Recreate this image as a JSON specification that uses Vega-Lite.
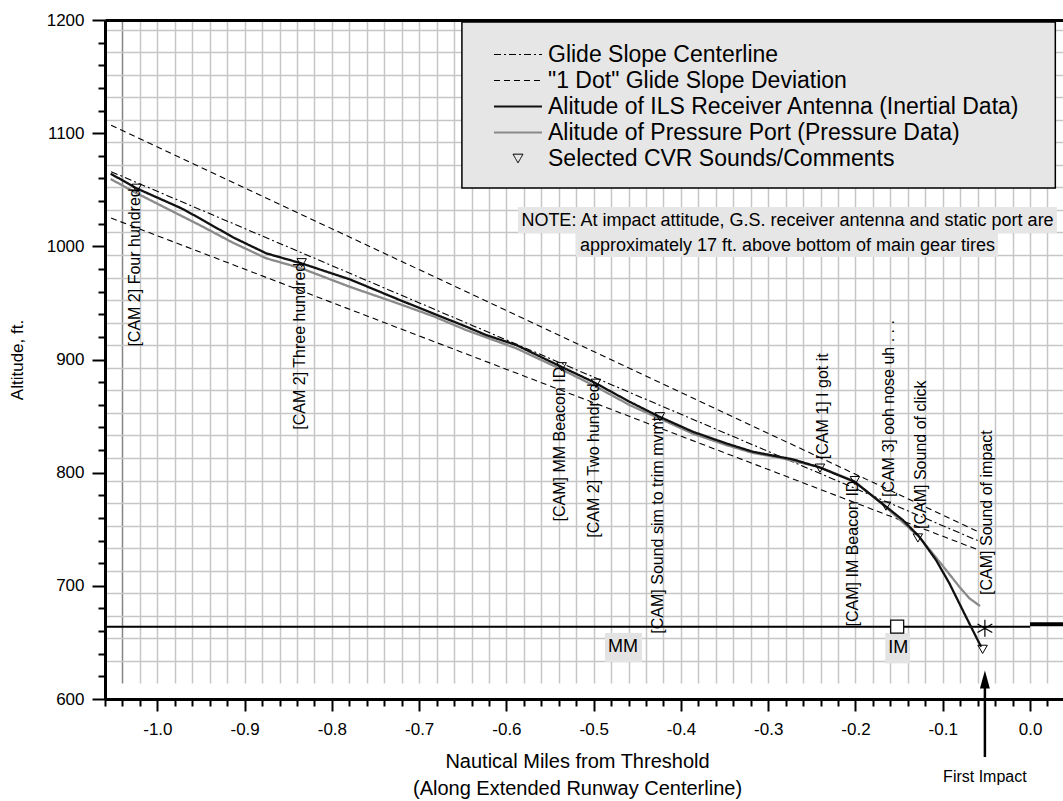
{
  "$schema": "https://vega.github.io/schema/vega-lite/v6.json",
  "width": 958,
  "height": 679,
  "autosize": {"type": "none"},
  "padding": {"left": 105, "top": 20, "right": 0, "bottom": 102},
  "background": "white",
  "config": {"view": {"stroke": null}, "font": "Liberation Sans"},
  "datasets": {
    "one": [{"k": 1}],
    "glide": [
      {"name": "Glide Slope Centerline", "part": "gs_c", "x": -1.053, "alt": 1066},
      {"name": "Glide Slope Centerline", "part": "gs_c", "x": -0.06, "alt": 740},
      {"name": "\"1 Dot\" Glide Slope Deviation", "part": "gs_up", "x": -1.053, "alt": 1107},
      {"name": "\"1 Dot\" Glide Slope Deviation", "part": "gs_up", "x": -0.06, "alt": 748},
      {"name": "\"1 Dot\" Glide Slope Deviation", "part": "gs_lo", "x": -1.053, "alt": 1025},
      {"name": "\"1 Dot\" Glide Slope Deviation", "part": "gs_lo", "x": -0.06, "alt": 732}
    ],
    "curves": [
      {"name": "Alitude of Pressure Port (Pressure Data)", "x": -1.0535, "alt": 1059.5},
      {"name": "Alitude of Pressure Port (Pressure Data)", "x": -1.024, "alt": 1047},
      {"name": "Alitude of Pressure Port (Pressure Data)", "x": -0.9516, "alt": 1018.8},
      {"name": "Alitude of Pressure Port (Pressure Data)", "x": -0.9134, "alt": 1003.2},
      {"name": "Alitude of Pressure Port (Pressure Data)", "x": -0.8752, "alt": 989.4},
      {"name": "Alitude of Pressure Port (Pressure Data)", "x": -0.8351, "alt": 980.6},
      {"name": "Alitude of Pressure Port (Pressure Data)", "x": -0.7797, "alt": 964.3},
      {"name": "Alitude of Pressure Port (Pressure Data)", "x": -0.7224, "alt": 949},
      {"name": "Alitude of Pressure Port (Pressure Data)", "x": -0.6843, "alt": 938.4},
      {"name": "Alitude of Pressure Port (Pressure Data)", "x": -0.6461, "alt": 926},
      {"name": "Alitude of Pressure Port (Pressure Data)", "x": -0.5888, "alt": 909.9},
      {"name": "Alitude of Pressure Port (Pressure Data)", "x": -0.5372, "alt": 891.3},
      {"name": "Alitude of Pressure Port (Pressure Data)", "x": -0.501, "alt": 877.5},
      {"name": "Alitude of Pressure Port (Pressure Data)", "x": -0.459, "alt": 859.8},
      {"name": "Alitude of Pressure Port (Pressure Data)", "x": -0.4246, "alt": 847.9},
      {"name": "Alitude of Pressure Port (Pressure Data)", "x": -0.3865, "alt": 834.5},
      {"name": "Alitude of Pressure Port (Pressure Data)", "x": -0.3482, "alt": 824.4},
      {"name": "Alitude of Pressure Port (Pressure Data)", "x": -0.3178, "alt": 817.5},
      {"name": "Alitude of Pressure Port (Pressure Data)", "x": -0.2872, "alt": 813.2},
      {"name": "Alitude of Pressure Port (Pressure Data)", "x": -0.2414, "alt": 805},
      {"name": "Alitude of Pressure Port (Pressure Data)", "x": -0.2013, "alt": 792.5},
      {"name": "Alitude of Pressure Port (Pressure Data)", "x": -0.1658, "alt": 770},
      {"name": "Alitude of Pressure Port (Pressure Data)", "x": -0.1268, "alt": 743},
      {"name": "Alitude of Pressure Port (Pressure Data)", "x": -0.1116, "alt": 728.7},
      {"name": "Alitude of Pressure Port (Pressure Data)", "x": -0.0962, "alt": 714},
      {"name": "Alitude of Pressure Port (Pressure Data)", "x": -0.081, "alt": 699.2},
      {"name": "Alitude of Pressure Port (Pressure Data)", "x": -0.0695, "alt": 689},
      {"name": "Alitude of Pressure Port (Pressure Data)", "x": -0.0573, "alt": 682.2},
      {"name": "Alitude of ILS Receiver Antenna (Inertial Data)", "x": -1.0535, "alt": 1064.2},
      {"name": "Alitude of ILS Receiver Antenna (Inertial Data)", "x": -1.024, "alt": 1051.3},
      {"name": "Alitude of ILS Receiver Antenna (Inertial Data)", "x": -0.9725, "alt": 1033.6},
      {"name": "Alitude of ILS Receiver Antenna (Inertial Data)", "x": -0.9516, "alt": 1024.8},
      {"name": "Alitude of ILS Receiver Antenna (Inertial Data)", "x": -0.9134, "alt": 1008},
      {"name": "Alitude of ILS Receiver Antenna (Inertial Data)", "x": -0.8752, "alt": 993.8},
      {"name": "Alitude of ILS Receiver Antenna (Inertial Data)", "x": -0.8351, "alt": 985},
      {"name": "Alitude of ILS Receiver Antenna (Inertial Data)", "x": -0.7797, "alt": 970.9},
      {"name": "Alitude of ILS Receiver Antenna (Inertial Data)", "x": -0.7224, "alt": 952.6},
      {"name": "Alitude of ILS Receiver Antenna (Inertial Data)", "x": -0.6843, "alt": 940.8},
      {"name": "Alitude of ILS Receiver Antenna (Inertial Data)", "x": -0.6461, "alt": 929},
      {"name": "Alitude of ILS Receiver Antenna (Inertial Data)", "x": -0.6232, "alt": 921.6},
      {"name": "Alitude of ILS Receiver Antenna (Inertial Data)", "x": -0.5888, "alt": 912.8},
      {"name": "Alitude of ILS Receiver Antenna (Inertial Data)", "x": -0.5372, "alt": 893.6},
      {"name": "Alitude of ILS Receiver Antenna (Inertial Data)", "x": -0.501, "alt": 880.4},
      {"name": "Alitude of ILS Receiver Antenna (Inertial Data)", "x": -0.459, "alt": 862.7},
      {"name": "Alitude of ILS Receiver Antenna (Inertial Data)", "x": -0.4246, "alt": 849.4},
      {"name": "Alitude of ILS Receiver Antenna (Inertial Data)", "x": -0.3865, "alt": 836.2},
      {"name": "Alitude of ILS Receiver Antenna (Inertial Data)", "x": -0.3482, "alt": 825.9},
      {"name": "Alitude of ILS Receiver Antenna (Inertial Data)", "x": -0.3178, "alt": 818.5},
      {"name": "Alitude of ILS Receiver Antenna (Inertial Data)", "x": -0.2872, "alt": 814},
      {"name": "Alitude of ILS Receiver Antenna (Inertial Data)", "x": -0.2719, "alt": 811.8},
      {"name": "Alitude of ILS Receiver Antenna (Inertial Data)", "x": -0.2414, "alt": 804.7},
      {"name": "Alitude of ILS Receiver Antenna (Inertial Data)", "x": -0.2013, "alt": 792},
      {"name": "Alitude of ILS Receiver Antenna (Inertial Data)", "x": -0.1658, "alt": 770.5},
      {"name": "Alitude of ILS Receiver Antenna (Inertial Data)", "x": -0.1459, "alt": 758.2},
      {"name": "Alitude of ILS Receiver Antenna (Inertial Data)", "x": -0.1268, "alt": 743.4},
      {"name": "Alitude of ILS Receiver Antenna (Inertial Data)", "x": -0.1077, "alt": 722.8},
      {"name": "Alitude of ILS Receiver Antenna (Inertial Data)", "x": -0.0924, "alt": 702.2},
      {"name": "Alitude of ILS Receiver Antenna (Inertial Data)", "x": -0.0772, "alt": 678.6},
      {"name": "Alitude of ILS Receiver Antenna (Inertial Data)", "x": -0.0658, "alt": 661},
      {"name": "Alitude of ILS Receiver Antenna (Inertial Data)", "x": -0.0561, "alt": 646.2}
    ],
    "cvr": [
      {"label": "[CAM 2] Four hundred", "x": -1.0237, "alt": 1051.3, "side": "below"},
      {"label": "[CAM 2] Three hundred", "x": -0.8346, "alt": 985.5, "side": "below"},
      {"label": "[CAM] MM Beacon ID", "x": -0.5367, "alt": 893.6, "side": "below"},
      {"label": "[CAM 2] Two hundred", "x": -0.4974, "alt": 879, "side": "below"},
      {"label": "[CAM] Sound sim to trim mvmt", "x": -0.4241, "alt": 849.4, "side": "below"},
      {"label": "[CAM 1] I got it", "x": -0.2407, "alt": 804, "side": "above"},
      {"label": "[CAM] IM Beacon ID", "x": -0.2006, "alt": 793, "side": "below"},
      {"label": "[CAM 3] ooh nose uh . . .", "x": -0.1651, "alt": 770.5, "side": "above"},
      {"label": "[CAM] Sound of click", "x": -0.1285, "alt": 742.3, "side": "above"},
      {"label": "[CAM] Sound of impact", "x": -0.0543, "alt": 643.9, "side": "impact"}
    ]
  },
  "layer": [
    {
      "data": {"name": "one"},
      "mark": {"type": "rect", "fill": "white"},
      "encoding": {
        "x": {"datum": -1.06, "type": "quantitative", "scale": {"domain": [-1.06, 0.0378], "nice": false, "zero": false},
          "axis": {"orient": "top", "values": [-1.04,-1.02,-1.0,-0.98,-0.96,-0.94,-0.92,-0.9,-0.88,-0.86,-0.84,-0.82,-0.8,-0.78,-0.76,-0.74,-0.72,-0.7,-0.68,-0.66,-0.64,-0.62,-0.6,-0.58,-0.56,-0.54,-0.52,-0.5,-0.48,-0.46,-0.44,-0.42,-0.4,-0.38,-0.36,-0.34,-0.32,-0.3,-0.28,-0.26,-0.24,-0.22,-0.2,-0.18,-0.16,-0.14,-0.12,-0.1,-0.08,-0.06,-0.04,-0.02,0,0.02],
            "grid": true, "gridColor": {"condition": {"test": "datum.value < -1.03", "value": "#858585"}, "value": "#c6c6c6"}, "gridWidth": 1.5,
            "ticks": false, "labels": false, "domain": true, "domainColor": "black", "domainWidth": 3, "title": null, "zindex": 0}},
        "x2": {"datum": 0.0378},
        "y": {"datum": 600, "type": "quantitative", "scale": {"domain": [600, 1200], "nice": false, "zero": false},
          "axis": {"orient": "right", "values": [633.6,653.5,673.5,693.4,713.3,733.3,753.2,773.1,793.0,813.0,832.9,852.8,872.8,892.7,912.6,932.6,952.5,972.4,992.3,1012.3,1032.2,1052.1,1072.1,1092.0,1111.9,1131.8,1151.8,1171.7,1191.6],
            "grid": true, "gridColor": "#c6c6c6", "gridWidth": 1.5, "ticks": false, "labels": false, "domain": false, "title": null, "zindex": 0}},
        "y2": {"datum": 613.8}
      }
    },
    {
      "data": {"name": "one"},
      "mark": {"type": "rect", "fill": "#e6e6e6", "stroke": "black", "strokeWidth": 1.5},
      "encoding": {
        "x": {"datum": -0.651, "type": "quantitative", "scale": {"domain": [-1.06, 0.0378], "nice": false, "zero": false}, "axis": null},
        "x2": {"datum": 0.0290},
        "y": {"datum": 1198.2, "type": "quantitative", "scale": {"domain": [600, 1200], "nice": false, "zero": false}, "axis": null},
        "y2": {"datum": 1051.5}
      }
    },
    {
      "data": {"name": "one"},
      "mark": {"type": "rect", "fill": "#e6e6e6"},
      "encoding": {
        "x": {"datum": -0.5868, "type": "quantitative", "scale": {"domain": [-1.06, 0.0378], "nice": false, "zero": false}, "axis": null},
        "x2": {"datum": 0.0308},
        "y": {"datum": 1034.7, "type": "quantitative", "scale": {"domain": [600, 1200], "nice": false, "zero": false}, "axis": null},
        "y2": {"datum": 1011.8}
      }
    },
    {
      "data": {"name": "one"},
      "mark": {"type": "rect", "fill": "#e6e6e6"},
      "encoding": {
        "x": {"datum": -0.5203, "type": "quantitative", "scale": {"domain": [-1.06, 0.0378], "nice": false, "zero": false}, "axis": null},
        "x2": {"datum": -0.0368},
        "y": {"datum": 1011.8, "type": "quantitative", "scale": {"domain": [600, 1200], "nice": false, "zero": false}, "axis": null},
        "y2": {"datum": 990.6}
      }
    },
    {
      "data": {"name": "one"},
      "mark": {"type": "text", "fontSize": 18, "font": "Liberation Sans", "color": "black", "align": "center", "baseline": "middle", "lineHeight": 25},
      "encoding": {
        "x": {"datum": -0.2779, "type": "quantitative", "scale": {"domain": [-1.06, 0.0378], "nice": false, "zero": false}, "axis": null},
        "y": {"datum": 1022.5, "type": "quantitative", "scale": {"domain": [600, 1200], "nice": false, "zero": false}, "axis": null},
        "text": {"value": ["NOTE: At impact attitude, G.S. receiver antenna and static port are", "approximately 17 ft. above bottom of main gear tires"]}
      }
    },
    {
      "data": {"name": "one"},
      "mark": {"type": "rule", "stroke": "black", "strokeWidth": 2},
      "encoding": {
        "x": {"datum": -1.06, "type": "quantitative", "scale": {"domain": [-1.06, 0.0378], "nice": false, "zero": false}, "axis": null},
        "x2": {"datum": 0},
        "y": {"datum": 663.9, "type": "quantitative", "scale": {"domain": [600, 1200], "nice": false, "zero": false}, "axis": null}
      }
    },
    {
      "data": {"name": "one"},
      "mark": {"type": "rule", "stroke": "black", "strokeWidth": 4},
      "encoding": {
        "x": {"datum": 0, "type": "quantitative", "scale": {"domain": [-1.06, 0.0378], "nice": false, "zero": false}, "axis": null},
        "x2": {"datum": 0.0378},
        "y": {"datum": 666, "type": "quantitative", "scale": {"domain": [600, 1200], "nice": false, "zero": false}, "axis": null}
      }
    },
    {
      "data": {"name": "glide"},
      "mark": {"type": "line", "strokeWidth": 1.1},
      "encoding": {
        "x": {"field": "x", "type": "quantitative", "scale": {"domain": [-1.06, 0.0378], "nice": false, "zero": false},
          "axis": {"orient": "bottom", "title": ["Nautical Miles from Threshold", "(Along Extended Runway Centerline)"],
            "values": [-1.06,-1.04,-1.02,-1.0,-0.98,-0.96,-0.94,-0.92,-0.9,-0.88,-0.86,-0.84,-0.82,-0.8,-0.78,-0.76,-0.74,-0.72,-0.7,-0.68,-0.66,-0.64,-0.62,-0.6,-0.58,-0.56,-0.54,-0.52,-0.5,-0.48,-0.46,-0.44,-0.42,-0.4,-0.38,-0.36,-0.34,-0.32,-0.3,-0.28,-0.26,-0.24,-0.22,-0.2,-0.18,-0.16,-0.14,-0.12,-0.1,-0.08,-0.06,-0.04,-0.02,0,0.02],
            "labelExpr": "abs(datum.value*10 - round(datum.value*10)) < 0.001 ? replace(format(datum.value, '.1f'), '\u2212', '-') : ''",
            "tickSize": {"condition": {"test": "abs(datum.value*10 - round(datum.value*10)) < 0.001", "value": 12}, "value": 7},
            "tickWidth": 2, "tickColor": "black", "domainWidth": 3, "domainColor": "black",
            "labelFontSize": 17, "labelColor": "black", "labelFont": "Liberation Sans", "labelPadding": 10, "labelFlush": false, "labelOverlap": false,
            "titleFontSize": 20, "titleFont": "Liberation Sans", "titleFontWeight": "normal", "titleColor": "black", "titlePadding": 14, "titleX": 472, "titleLineHeight": 27,
            "grid": false, "zindex": 1}},
        "y": {"field": "alt", "type": "quantitative", "scale": {"domain": [600, 1200], "nice": false, "zero": false},
          "axis": {"orient": "left", "title": "Altitude, ft.",
            "values": [600,620,640,660,680,700,720,740,760,780,800,820,840,860,880,900,920,940,960,980,1000,1020,1040,1060,1080,1100,1120,1140,1160,1180,1200],
            "labelExpr": "datum.value % 100 === 0 ? '' + datum.value : ''",
            "tickSize": {"condition": {"test": "datum.value % 100 === 0", "value": 13}, "value": 7},
            "tickWidth": 2, "tickColor": "black", "domainWidth": 3, "domainColor": "black",
            "labelFontSize": 17, "labelColor": "black", "labelFont": "Liberation Sans", "labelPadding": 8, "labelFlush": false, "labelOverlap": false,
            "titleFontSize": 17, "titleFont": "Liberation Sans", "titleFontWeight": "normal", "titleColor": "black", "titlePadding": 20,
            "grid": false, "zindex": 1}},
        "detail": {"field": "part", "type": "nominal"},
        "color": {"field": "name", "type": "nominal",
          "scale": {"domain": ["Glide Slope Centerline", "\"1 Dot\" Glide Slope Deviation", "Alitude of ILS Receiver Antenna (Inertial Data)", "Alitude of Pressure Port (Pressure Data)", "Selected CVR Sounds/Comments"],
            "range": ["black", "black", "#111111", "#8a8a8a", "black"]},
          "legend": {"title": null, "orient": "none", "legendX": 389, "legendY": 23, "padding": 0,
            "labelFontSize": 23, "labelFont": "Liberation Sans", "labelColor": "black", "labelLimit": 0,
            "symbolSize": 100, "rowPadding": 2, "labelOffset": 5, "symbolStrokeWidth": 1.5,
            "encode": {
              "symbols": {"update": {
                "shape": {"signal": "datum.index === 4 ? 'triangle-down' : 'M-4.8,0L4.8,0'"},
                "x": {"value": 24},
                "stroke": {"value": "black"},
                "fill": {"value": "transparent"},
                "strokeWidth": {"signal": "datum.index < 2 ? 1 : (datum.index === 4 ? 1 : 2)"}
              }},
              "labels": {"update": {"x": {"value": 54}}}
            }}},
        "strokeDash": {"field": "name", "type": "nominal",
          "scale": {"domain": ["Glide Slope Centerline", "\"1 Dot\" Glide Slope Deviation", "Alitude of ILS Receiver Antenna (Inertial Data)", "Alitude of Pressure Port (Pressure Data)", "Selected CVR Sounds/Comments"],
            "range": [[7, 3, 2, 3], [6, 4], [1, 0], [1, 0], [1, 0]]},
          "legend": {"title": null, "orient": "none", "legendX": 389, "legendY": 23, "padding": 0,
            "labelFontSize": 23, "labelFont": "Liberation Sans", "labelColor": "black", "labelLimit": 0,
            "symbolSize": 100, "rowPadding": 2, "labelOffset": 5, "symbolStrokeWidth": 1.5,
            "encode": {
              "symbols": {"update": {
                "shape": {"signal": "datum.index === 4 ? 'triangle-down' : 'M-4.8,0L4.8,0'"},
                "x": {"value": 24},
                "stroke": {"value": "black"},
                "fill": {"value": "transparent"},
                "strokeWidth": {"signal": "datum.index < 2 ? 1 : (datum.index === 4 ? 1 : 2)"}
              }},
              "labels": {"update": {"x": {"value": 54}}}
            }}}
      }
    },
    {
      "data": {"name": "curves"},
      "mark": {"type": "line", "strokeWidth": 2.3},
      "encoding": {
        "x": {"field": "x", "type": "quantitative", "scale": {"domain": [-1.06, 0.0378], "nice": false, "zero": false}, "axis": null},
        "y": {"field": "alt", "type": "quantitative", "scale": {"domain": [600, 1200], "nice": false, "zero": false}, "axis": null},
        "color": {"field": "name", "type": "nominal",
          "scale": {"domain": ["Glide Slope Centerline", "\"1 Dot\" Glide Slope Deviation", "Alitude of ILS Receiver Antenna (Inertial Data)", "Alitude of Pressure Port (Pressure Data)", "Selected CVR Sounds/Comments"],
            "range": ["black", "black", "#111111", "#8a8a8a", "black"]},
          "legend": {"title": null, "orient": "none", "legendX": 389, "legendY": 23, "padding": 0,
            "labelFontSize": 23, "labelFont": "Liberation Sans", "labelColor": "black", "labelLimit": 0,
            "symbolSize": 100, "rowPadding": 2, "labelOffset": 5, "symbolStrokeWidth": 1.5,
            "encode": {
              "symbols": {"update": {
                "shape": {"signal": "datum.index === 4 ? 'triangle-down' : 'M-4.8,0L4.8,0'"},
                "x": {"value": 24},
                "stroke": {"value": "black"},
                "fill": {"value": "transparent"},
                "strokeWidth": {"signal": "datum.index < 2 ? 1 : (datum.index === 4 ? 1 : 2)"}
              }},
              "labels": {"update": {"x": {"value": 54}}}
            }}},
        "strokeDash": {"field": "name", "type": "nominal",
          "scale": {"domain": ["Glide Slope Centerline", "\"1 Dot\" Glide Slope Deviation", "Alitude of ILS Receiver Antenna (Inertial Data)", "Alitude of Pressure Port (Pressure Data)", "Selected CVR Sounds/Comments"],
            "range": [[7, 3, 2, 3], [6, 4], [1, 0], [1, 0], [1, 0]]},
          "legend": {"title": null, "orient": "none", "legendX": 389, "legendY": 23, "padding": 0,
            "labelFontSize": 23, "labelFont": "Liberation Sans", "labelColor": "black", "labelLimit": 0,
            "symbolSize": 100, "rowPadding": 2, "labelOffset": 5, "symbolStrokeWidth": 1.5,
            "encode": {
              "symbols": {"update": {
                "shape": {"signal": "datum.index === 4 ? 'triangle-down' : 'M-4.8,0L4.8,0'"},
                "x": {"value": 24},
                "stroke": {"value": "black"},
                "fill": {"value": "transparent"},
                "strokeWidth": {"signal": "datum.index < 2 ? 1 : (datum.index === 4 ? 1 : 2)"}
              }},
              "labels": {"update": {"x": {"value": 54}}}
            }}}
      }
    },
    {
      "data": {"name": "cvr"},
      "mark": {"type": "point", "shape": "triangle-down", "filled": false, "stroke": "black", "strokeWidth": 1, "size": 90, "opacity": 1},
      "encoding": {
        "x": {"field": "x", "type": "quantitative", "scale": {"domain": [-1.06, 0.0378], "nice": false, "zero": false}, "axis": null},
        "y": {"field": "alt", "type": "quantitative", "scale": {"domain": [600, 1200], "nice": false, "zero": false}, "axis": null}
      }
    },
    {
      "data": {"name": "cvr"},
      "transform": [{"filter": "datum.side === 'below'"}],
      "mark": {"type": "text", "angle": 270, "align": "right", "baseline": "middle", "fontSize": 16, "font": "Liberation Sans", "color": "black", "dx": 0, "dy": -2},
      "encoding": {
        "x": {"field": "x", "type": "quantitative", "scale": {"domain": [-1.06, 0.0378], "nice": false, "zero": false}, "axis": null},
        "y": {"field": "alt", "type": "quantitative", "scale": {"domain": [600, 1200], "nice": false, "zero": false}, "axis": null},
        "text": {"field": "label"}
      }
    },
    {
      "data": {"name": "cvr"},
      "transform": [{"filter": "datum.side === 'above'"}],
      "mark": {"type": "text", "angle": 270, "align": "left", "baseline": "middle", "fontSize": 16, "font": "Liberation Sans", "color": "black", "dx": 9, "dy": 3},
      "encoding": {
        "x": {"field": "x", "type": "quantitative", "scale": {"domain": [-1.06, 0.0378], "nice": false, "zero": false}, "axis": null},
        "y": {"field": "alt", "type": "quantitative", "scale": {"domain": [600, 1200], "nice": false, "zero": false}, "axis": null},
        "text": {"field": "label"}
      }
    },
    {
      "data": {"name": "cvr"},
      "transform": [{"filter": "datum.side === 'impact'"}],
      "mark": {"type": "text", "angle": 270, "align": "left", "baseline": "middle", "fontSize": 16, "font": "Liberation Sans", "color": "black", "dx": 0, "dy": 4},
      "encoding": {
        "x": {"field": "x", "type": "quantitative", "scale": {"domain": [-1.06, 0.0378], "nice": false, "zero": false}, "axis": null},
        "y": {"datum": 692, "type": "quantitative", "scale": {"domain": [600, 1200], "nice": false, "zero": false}, "axis": null},
        "text": {"field": "label"}
      }
    },
    {
      "data": {"name": "one"},
      "mark": {"type": "rect", "fill": "#e3e3e3"},
      "encoding": {
        "x": {"datum": -0.4871, "type": "quantitative", "scale": {"domain": [-1.06, 0.0378], "nice": false, "zero": false}, "axis": null},
        "x2": {"datum": -0.4447},
        "y": {"datum": 632.7, "type": "quantitative", "scale": {"domain": [600, 1200], "nice": false, "zero": false}, "axis": null},
        "y2": {"datum": 658.3}
      }
    },
    {
      "data": {"name": "one"},
      "mark": {"type": "rect", "fill": "#e3e3e3"},
      "encoding": {
        "x": {"datum": -0.1659, "type": "quantitative", "scale": {"domain": [-1.06, 0.0378], "nice": false, "zero": false}, "axis": null},
        "x2": {"datum": -0.1376},
        "y": {"datum": 631.5, "type": "quantitative", "scale": {"domain": [600, 1200], "nice": false, "zero": false}, "axis": null},
        "y2": {"datum": 658.3}
      }
    },
    {
      "data": {"name": "one"},
      "mark": {"type": "text", "fontSize": 18, "font": "Liberation Sans", "color": "black", "align": "center", "baseline": "middle"},
      "encoding": {
        "x": {"datum": -0.4665, "type": "quantitative", "scale": {"domain": [-1.06, 0.0378], "nice": false, "zero": false}, "axis": null},
        "y": {"datum": 646, "type": "quantitative", "scale": {"domain": [600, 1200], "nice": false, "zero": false}, "axis": null},
        "text": {"value": "MM"}
      }
    },
    {
      "data": {"name": "one"},
      "mark": {"type": "text", "fontSize": 18, "font": "Liberation Sans", "color": "black", "align": "center", "baseline": "middle"},
      "encoding": {
        "x": {"datum": -0.151, "type": "quantitative", "scale": {"domain": [-1.06, 0.0378], "nice": false, "zero": false}, "axis": null},
        "y": {"datum": 645, "type": "quantitative", "scale": {"domain": [600, 1200], "nice": false, "zero": false}, "axis": null},
        "text": {"value": "IM"}
      }
    },
    {
      "data": {"name": "one"},
      "mark": {"type": "point", "shape": "square", "filled": true, "fill": "white", "stroke": "black", "strokeWidth": 1.2, "size": 169, "opacity": 1},
      "encoding": {
        "x": {"datum": -0.1522, "type": "quantitative", "scale": {"domain": [-1.06, 0.0378], "nice": false, "zero": false}, "axis": null},
        "y": {"datum": 663.9, "type": "quantitative", "scale": {"domain": [600, 1200], "nice": false, "zero": false}, "axis": null}
      }
    },
    {
      "data": {"name": "one"},
      "mark": {"type": "point", "shape": "M0,-1L0,1M-0.87,-0.5L0.87,0.5M-0.87,0.5L0.87,-0.5", "filled": false, "stroke": "black", "strokeWidth": 1.2, "size": 289, "opacity": 1},
      "encoding": {
        "x": {"datum": -0.0517, "type": "quantitative", "scale": {"domain": [-1.06, 0.0378], "nice": false, "zero": false}, "axis": null},
        "y": {"datum": 662.6, "type": "quantitative", "scale": {"domain": [600, 1200], "nice": false, "zero": false}, "axis": null}
      }
    },
    {
      "data": {"name": "one"},
      "mark": {"type": "rule", "stroke": "black", "strokeWidth": 2.5},
      "encoding": {
        "x": {"datum": -0.0517, "type": "quantitative", "scale": {"domain": [-1.06, 0.0378], "nice": false, "zero": false}, "axis": null},
        "y": {"datum": 548.7, "type": "quantitative", "scale": {"domain": [600, 1200], "nice": false, "zero": false}, "axis": null},
        "y2": {"datum": 614}
      }
    },
    {
      "data": {"name": "one"},
      "mark": {"type": "point", "shape": "M0,-1L0.55,1L-0.55,1Z", "filled": true, "fill": "black", "strokeWidth": 0, "size": 324, "opacity": 1},
      "encoding": {
        "x": {"datum": -0.0517, "type": "quantitative", "scale": {"domain": [-1.06, 0.0378], "nice": false, "zero": false}, "axis": null},
        "y": {"datum": 617.2, "type": "quantitative", "scale": {"domain": [600, 1200], "nice": false, "zero": false}, "axis": null}
      }
    },
    {
      "data": {"name": "one"},
      "mark": {"type": "text", "fontSize": 16, "font": "Liberation Sans", "color": "black", "align": "center", "baseline": "middle"},
      "encoding": {
        "x": {"datum": -0.0517, "type": "quantitative", "scale": {"domain": [-1.06, 0.0378], "nice": false, "zero": false}, "axis": null},
        "y": {"datum": 531.5, "type": "quantitative", "scale": {"domain": [600, 1200], "nice": false, "zero": false}, "axis": null},
        "text": {"value": "First Impact"}
      }
    }
  ],
  "resolve": {"axis": {"x": "independent", "y": "independent"}}
}
